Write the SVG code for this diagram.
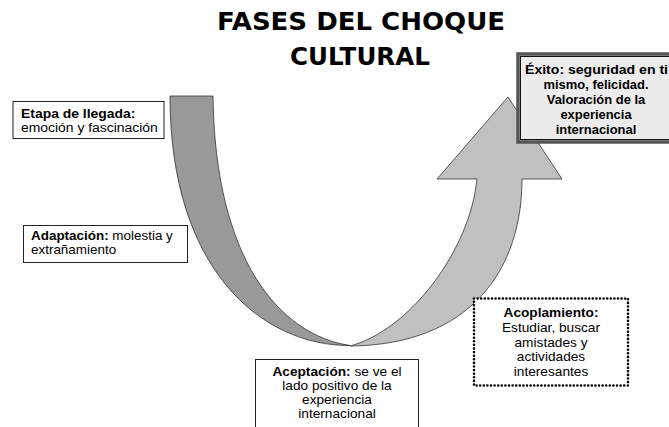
<svg xmlns="http://www.w3.org/2000/svg" width="669" height="427" viewBox="0 0 669 427">
<style>
.t{font-family:"Liberation Sans",Arial,sans-serif;font-size:12px;fill:#000}
.b{font-weight:bold}
.c{text-anchor:middle}
.title{font-family:"DejaVu Sans","Liberation Sans",sans-serif;font-weight:bold;font-size:25px;text-anchor:middle;fill:#000}
.box{fill:#fff;stroke:#222;stroke-width:1}
</style>
<rect width="669" height="427" fill="#fff"/>
<g id="title">
<text class="title" x="361" y="30" textLength="288" lengthAdjust="spacingAndGlyphs">FASES DEL CHOQUE</text>
<text class="title" x="360" y="65" textLength="140" lengthAdjust="spacingAndGlyphs">CULTURAL</text>
</g>
<g id="connectors">
<path d="M170,96 L213,96 C215,260 280,335 350,345.5 C262,346 170,270 170,96 Z" fill="#999" stroke="#333" stroke-width="0.8"/>
<path d="M350,346 C470,345 522,270 522,179 L562,179 L508,97 L437,179 L477,179 C470,250 410,330 350,346 Z" fill="#c0c0c0" stroke="#333" stroke-width="0.8"/>
</g>
<g id="n-llegada">
<rect class="box" x="13" y="101.5" width="151" height="37"/>
<g transform="translate(21 0) scale(1.16 1)">
<text class="t b" x="0" y="118">Etapa de llegada:</text>
<text class="t" x="0" y="132">emoción y fascinación</text>
</g>
</g>
<g id="n-adaptacion">
<rect class="box" x="23.5" y="225.5" width="164" height="37"/>
<g transform="translate(31 0) scale(1.12 1)">
<text class="t" x="0" y="240"><tspan class="b">Adaptación:</tspan> molestia y</text>
<text class="t" x="0" y="254">extrañamiento</text>
</g>
</g>
<g id="n-aceptacion">
<rect class="box" x="255.5" y="359.5" width="163" height="80"/>
<g transform="translate(337 0) scale(1.14 1)">
<text class="t c" x="0" y="376"><tspan class="b">Aceptación:</tspan> se ve el</text>
<text class="t c" x="0" y="390">lado positivo de la</text>
<text class="t c" x="0" y="404">experiencia</text>
<text class="t c" x="0" y="418">internacional</text>
</g>
</g>
<g id="n-acoplamiento">
<rect x="474" y="298.5" width="154" height="87" fill="#fff" stroke="#000" stroke-width="2.6" stroke-dasharray="0 3.6" stroke-linecap="round"/>
<g transform="translate(551 0) scale(1.14 1)">
<text class="t c b" x="0" y="317">Acoplamiento:</text>
<text class="t c" x="0" y="332">Estudiar, buscar</text>
<text class="t c" x="0" y="347">amistades y</text>
<text class="t c" x="0" y="361.5">actividades</text>
<text class="t c" x="0" y="376">interesantes</text>
</g>
</g>
<g id="n-exito">
<rect x="518" y="54" width="160" height="88" fill="#ececec" stroke="#555" stroke-width="3.5"/>
<rect x="520.5" y="56.5" width="160" height="83" fill="none" stroke="#111" stroke-width="1"/>
<text class="t b" x="525" y="73.5" textLength="143" lengthAdjust="spacingAndGlyphs">Éxito: seguridad en ti</text>
<g transform="translate(596 0) scale(1.08 1)">
<text class="t c b" x="0" y="89">mismo, felicidad.</text>
<text class="t c b" x="0" y="104">Valoración de la</text>
<text class="t c b" x="0" y="119.5">experiencia</text>
<text class="t c b" x="0" y="134.5">internacional</text>
</g>
</g>
</svg>
